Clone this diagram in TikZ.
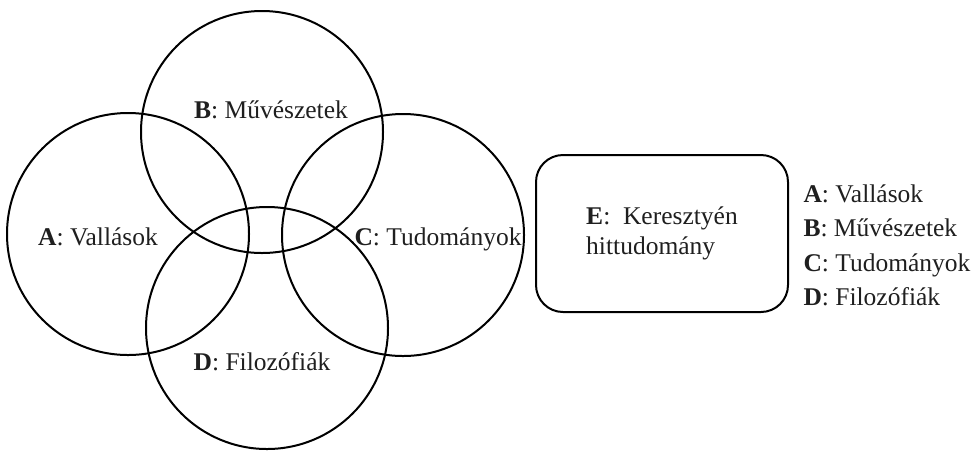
\documentclass[tikz,border=0pt]{standalone}
\usepackage{fontspec}
\setmainfont{Liberation Serif}
\begin{document}
\begin{tikzpicture}[x=1pt,y=-1pt,
  setc/.style={circle,draw,line width=2pt,minimum size=242pt,inner sep=0pt},
  lab/.style={anchor=base,inner sep=0pt,font=\fontsize{25.5}{29}\selectfont,text=black!88},
  leg/.style={anchor=base west,inner sep=0pt,font=\fontsize{25.5}{29}\selectfont,text=black!88},
  ebox/.style={draw,line width=2pt,rounded corners=27pt,minimum width=252pt,minimum height=157pt,align=left,font=\fontsize{25.5}{29.4}\selectfont,text=black!88}]
\useasboundingbox (0,0) rectangle (979,451);
\node[setc] (A) at (128,234) {};
\node[setc] (B) at (262,132) {};
\node[setc] (C) at (403,235) {};
\node[setc] (D) at (267,328) {};
\node[lab] (la) at (98,245) {\textbf{A}: Vallások};
\node[lab] (lb) at (271,118.5) {\textbf{B}: Művészetek};
\node[lab] (lc) at (438,245) {\textbf{C}: Tudományok};
\node[lab] (ld) at (262,370.6) {\textbf{D}: Filozófiák};
\node[ebox] (E) at (662,233.5) {\textbf{E}:\ \ Keresztyén\\hittudomány};
\node[leg] (ga) at (803.3,202.7) {\textbf{A}: Vallások};
\node[leg] (gb) at (803.3,236.7) {\textbf{B}: Művészetek};
\node[leg] (gc) at (803.3,271.7) {\textbf{C}: Tudományok};
\node[leg] (gd) at (803.3,305.7) {\textbf{D}: Filozófiák};
\end{tikzpicture}
\end{document}
